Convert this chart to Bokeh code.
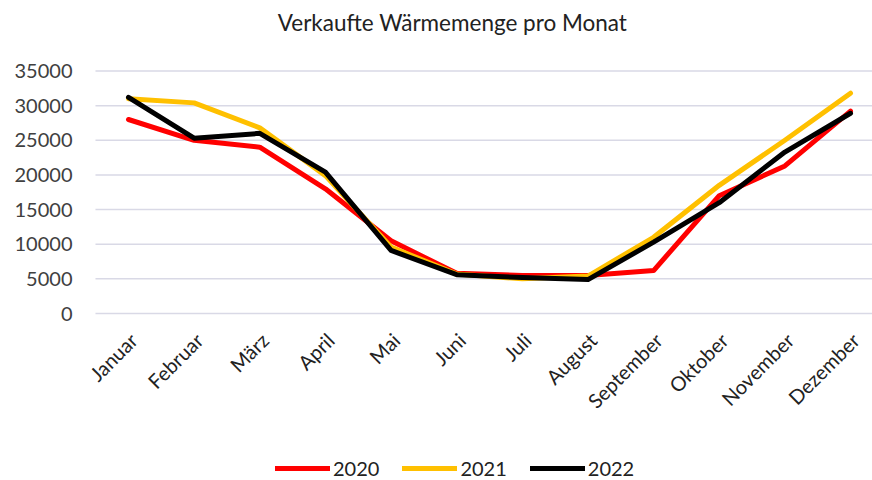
from bokeh.plotting import figure
from bokeh.models import ColumnDataSource, Legend, LegendItem, Label
from bokeh.core.properties import value
from bokeh.embed import file_html
from bokeh.resources import INLINE
import math

months = ["Januar", "Februar", "März", "April", "Mai", "Juni", "Juli",
          "August", "September", "Oktober", "November", "Dezember"]
series_names = ["2020", "2021", "2022"]
v2020 = [28000, 25000, 24000, 18000, 10500, 5800, 5500, 5500, 6200, 17000, 21300, 29200]
v2021 = [31000, 30400, 26800, 19900, 9600, 5700, 5000, 5400, 11000, 18500, 25000, 31800]
v2022 = [31200, 25300, 26000, 20400, 9100, 5600, 5200, 4900, 10300, 16000, 23300, 28900]
y_ticks = [0, 5000, 10000, 15000, 20000, 25000, 30000, 35000]
colors = ["#FF0000", "#FFC000", "#000000"]
title_text = "Verkaufte Wärmemenge pro Monat"

FONT = "Lato"
idx = list(range(len(months)))

# plot-area edges in data units (category index), chart area spans the page
X_LEFT, X_RIGHT = -0.503, 11.335

# the frame fills the whole figure; grid, tick labels, title, month labels
# and legend are drawn inside it so nothing gets clipped
p = figure(width=872, height=480, output_backend="svg", toolbar_location=None,
           x_range=(-1.950, X_RIGHT), y_range=(-24100, 45175),
           x_axis_location=None, y_axis_location=None,
           min_border=0)
p.outline_line_color = None
p.xgrid.visible = False
p.ygrid.visible = False

p.add_layout(Label(x=4.936, y=42000, text=title_text, text_align="center",
                   text_baseline="middle", text_font=FONT, text_font_size="22.5px",
                   text_color="#222222"))

# horizontal gridlines at the value ticks
grid_src = ColumnDataSource(dict(x0=[X_LEFT] * len(y_ticks), x1=[X_RIGHT] * len(y_ticks),
                                 y=y_ticks, t=[str(v) for v in y_ticks]))
p.segment(x0="x0", y0="y", x1="x1", y1="y", source=grid_src,
          line_color="#D9D9E6", line_width=1.5)
p.text(x="x0", y="y", text="t", source=grid_src, x_offset=-23,
       text_align="right", text_baseline="middle",
       text_font=value(FONT), text_font_size="20px", text_color="#404040")

renderers = []
for vals, col in zip([v2020, v2021, v2022], colors):
    src = ColumnDataSource(dict(x=idx, y=vals))
    r = p.line("x", "y", source=src, line_color=col, line_width=5,
               line_cap="round", line_join="round")
    renderers.append(r)

# month labels under the 0 line
lab_src = ColumnDataSource(dict(x=idx, y=[0] * len(idx), t=months))
p.text("x", "y", text="t", source=lab_src, angle=math.pi / 4,
       text_align="right", text_baseline="middle", x_offset=5, y_offset=23,
       text_font=value(FONT), text_font_size="20px", text_color="#222222")

legend = Legend(items=[LegendItem(label=n, renderers=[r]) for n, r in zip(series_names, renderers)],
                orientation="horizontal", location=(275, 0),
                label_text_font=FONT, label_text_font_size="20px",
                label_text_color="#222222", glyph_width=55, glyph_height=20,
                spacing=23, label_standoff=3, border_line_color=None,
                background_fill_alpha=0, margin=0, padding=0)
p.add_layout(legend, "center")

open("out.html", "w").write(file_html(p, INLINE))
